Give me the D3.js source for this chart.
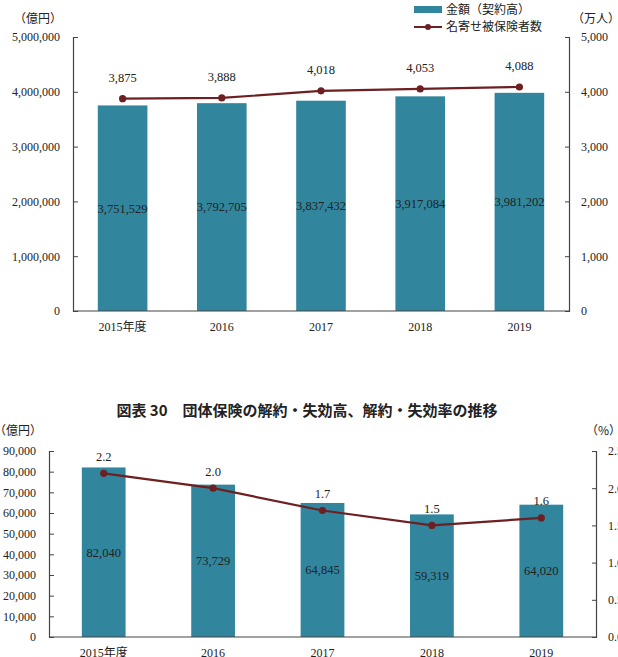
<!DOCTYPE html>
<html><head><meta charset="utf-8">
<script src="https://cdn.jsdelivr.net/npm/d3@7"></script>
<style>
body{margin:0;background:#fff;}
svg{display:block;}
text{font-family:"Liberation Serif","Noto Sans CJK JP",serif;fill:#222;}
.cjk{font-family:"Noto Sans CJK JP",sans-serif;}
</style></head>
<body>
<svg id="c" width="618" height="657"></svg>
<script>
// ---- Data: chart 1 ----
const years = ["2015年度","2016","2017","2018","2019"];
const amount = [3751529, 3792705, 3837432, 3917084, 3981202];
const insured = [3875, 3888, 4018, 4053, 4088];
const leftTicks1 = [0,1000000,2000000,3000000,4000000,5000000];
const rightTicks1 = [0,1000,2000,3000,4000,5000];
// ---- Data: chart 2 ----
const lapseAmount = [82040, 73729, 64845, 59319, 64020];
const lapseRate = [2.2, 2.0, 1.7, 1.5, 1.6];
const leftTicks2 = [0,10000,20000,30000,40000,50000,60000,70000,80000,90000];
const rightTicks2 = [0,0.5,1.0,1.5,2.0,2.5];

const barColor = "#31869E";
const lineColor = "#6E1F22";
const svg = d3.select("#c");
const fmt = d3.format(",");

function drawChart(o){
  const g = svg.append("g");
  const x = d3.scaleBand().domain(o.cats).range([o.x0,o.x1]).paddingInner(o.pad).paddingOuter(o.pad/2);
  const yL = d3.scaleLinear().domain([0,o.lmax]).range([o.y0,o.y1]);
  const yR = d3.scaleLinear().domain([0,o.rmax]).range([o.y0,o.y1]);
  g.selectAll("rect.bar").data(o.bars).enter().append("rect")
    .attr("x",(d,i)=>x(o.cats[i])).attr("width",x.bandwidth())
    .attr("y",d=>yL(d)).attr("height",d=>o.y0-yL(d)).attr("fill",barColor);
  const axL = d3.axisLeft(yL).tickValues(o.lt).tickFormat(o.lf).tickSizeInner(-5).tickSizeOuter(-5).tickPadding(13);
  const gl = g.append("g").attr("transform",`translate(${o.x0},0)`).call(axL);
  const axR = d3.axisRight(yR).tickValues(o.rt).tickFormat(o.rf).tickSizeInner(-4).tickSizeOuter(-4).tickPadding(12);
  const gr = g.append("g").attr("transform",`translate(${o.x1},0)`).call(axR);
  const axB = d3.axisBottom(x).tickSize(0).tickPadding(11);
  const gb = g.append("g").attr("transform",`translate(0,${o.y0})`).call(axB);
  gb.select(".domain").attr("d",`M${o.x0},0H${o.x1}`);
  [gl,gr,gb].forEach(a=>{
    a.selectAll(".domain").attr("stroke","#444").attr("stroke-width",1.2);
    a.selectAll(".tick line").attr("stroke","#444");
    a.selectAll("text").attr("font-size",o.fs).attr("fill","#222")
      .style("font-family",'"Liberation Serif","Noto Sans CJK JP",serif');
  });
  g.selectAll("text.bl").data(o.bars).enter().append("text")
    .attr("x",(d,i)=>x(o.cats[i])+x.bandwidth()/2)
    .attr("y",d=>(o.y0+yL(d))/2).attr("dy","0.35em")
    .attr("text-anchor","middle").attr("font-size",o.fs+0.5).attr("fill","#1a1a1a")
    .text(d=>fmt(d));
  const line = d3.line().x((d,i)=>x(o.cats[i])+x.bandwidth()/2).y(d=>yR(d));
  g.append("path").datum(o.line).attr("d",line).attr("fill","none")
    .attr("stroke",lineColor).attr("stroke-width",2.2);
  g.selectAll("circle.pt").data(o.line).enter().append("circle")
    .attr("cx",(d,i)=>x(o.cats[i])+x.bandwidth()/2).attr("cy",d=>yR(d))
    .attr("r",3.6).attr("fill",lineColor);
  g.selectAll("text.ll").data(o.line).enter().append("text")
    .attr("x",(d,i)=>x(o.cats[i])+x.bandwidth()/2)
    .attr("y",d=>yR(d)-o.lOff).attr("dy","0.35em")
    .attr("text-anchor","middle").attr("font-size",o.fs+0.5)
    .text(d=>o.lfmt(d));
}

drawChart({cats:years,bars:amount,line:insured,x0:73,x1:569,pad:0.5,y0:311,y1:37,
  lmax:5000000,rmax:5000,lt:leftTicks1,rt:rightTicks1,lf:fmt,rf:fmt,fs:12,lOff:21,lfmt:fmt});
drawChart({cats:years,bars:lapseAmount,line:lapseRate,x0:49,x1:596,pad:0.6,y0:637,y1:451,
  lmax:90000,rmax:2.5,lt:leftTicks2,rt:rightTicks2,lf:fmt,rf:d3.format(".1f"),fs:12,lOff:17,lfmt:d3.format(".1f")});

svg.append("text").attr("class","cjk").attr("x",14).attr("y",23).attr("font-size",12).text("（億円）");
svg.append("text").attr("class","cjk").attr("x",572).attr("y",23).attr("font-size",12).text("（万人）");
svg.append("text").attr("class","cjk").attr("x",-6).attr("y",435).attr("font-size",12).text("（億円）");
svg.append("text").attr("class","cjk").attr("x",586).attr("y",435).attr("font-size",12).text("（%）");

const lg = svg.append("g");
lg.append("rect").attr("x",414).attr("y",6).attr("width",28).attr("height",7).attr("fill",barColor);
lg.append("text").attr("class","cjk").attr("x",446).attr("y",14).attr("font-size",12).text("金額（契約高）");
lg.append("line").attr("x1",414).attr("x2",442).attr("y1",27).attr("y2",27).attr("stroke",lineColor).attr("stroke-width",2);
lg.append("circle").attr("cx",428).attr("cy",27).attr("r",3).attr("fill",lineColor);
lg.append("text").attr("class","cjk").attr("x",446).attr("y",31).attr("font-size",12).text("名寄せ被保険者数");

svg.append("text").attr("class","cjk").attr("x",307).attr("y",416).attr("text-anchor","middle")
  .attr("font-size",15).attr("font-weight","bold").text("図表 30　団体保険の解約・失効高、解約・失効率の推移");
</script>
</body></html>
